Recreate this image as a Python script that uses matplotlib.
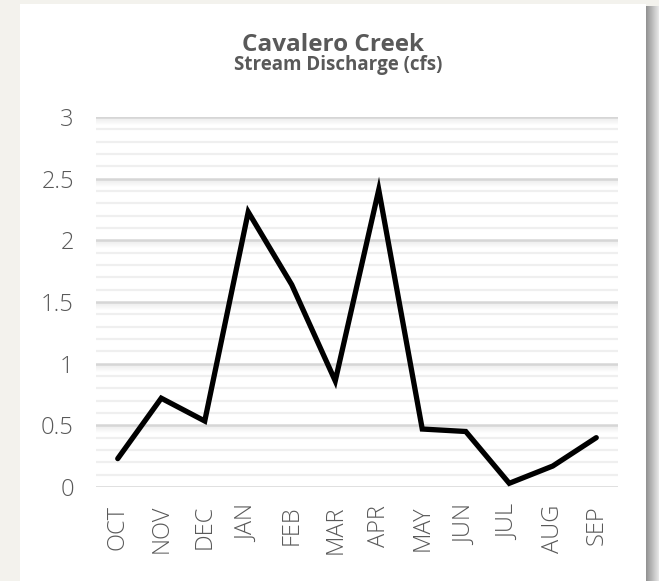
import matplotlib.pyplot as plt
import numpy as np

months = ['OCT', 'NOV', 'DEC', 'JAN', 'FEB', 'MAR',
          'APR', 'MAY', 'JUN', 'JUL', 'AUG', 'SEP']
discharge = [0.23, 0.72, 0.535, 2.23, 1.64, 0.86,
             2.41, 0.47, 0.45, 0.03, 0.17, 0.40]
major_ticks = [0, 0.5, 1, 1.5, 2, 2.5, 3]
major_labels = ['0', '0.5', '1', '1.5', '2', '2.5', '3']

W, H = 659, 581
fig = plt.figure(figsize=(W / 100, H / 100), dpi=100)

# background: beige page, white card, shadow on the card's right side
bg = np.ones((H, W, 3))
bg[:, :] = np.array([243, 242, 237]) / 255
bg[4:, 20:646] = 1.0
shade = np.linspace(0.58, 0.9, W - 646)
bg[6:, 646:] = shade[None, :, None]
bg_ax = fig.add_axes([0, 0, 1, 1], zorder=-1)
bg_ax.imshow(bg, aspect='auto', interpolation='nearest')
bg_ax.axis('off')

ax = fig.add_axes([96 / W, 1 - 487 / H, 522 / W, 370 / H])
ax.set_facecolor('none')

x = np.arange(len(months))
ax.set_xlim(-0.5, 11.5)
ax.set_ylim(0, 3)

# minor grid
for v in np.arange(0.1, 3.0, 0.1):
    if abs(v * 2 - round(v * 2)) > 1e-6:
        ax.axhline(v, color='#efefef', lw=1.6, zorder=1)

# major grid with soft shadow
px = 3.0 / 370
for v in major_ticks:
    if v > 0:
        for d in range(1, 8):
            ax.axhline(v - d * px, color='#d0d0d0', lw=1.2,
                       alpha=0.3 * (1 - d / 8), zorder=1)
    ax.axhline(v, color='#d6d6d6', lw=1.8, zorder=2)

ax.plot(x, discharge, color='black', lw=3.8, solid_capstyle='round',
        solid_joinstyle='miter', zorder=5, clip_on=False)

tick_font = dict(family='Open Sans', fontweight='light', fontsize=17, color='#595959')
for s in ax.spines.values():
    s.set_visible(False)
ax.tick_params(length=0, colors='#595959')
ax.set_yticks(major_ticks)
ax.set_yticklabels(major_labels, **tick_font)
ax.tick_params(axis='y', pad=16)
ax.set_xticks(x)
ax.set_xticklabels(months, rotation=90, **tick_font)
ax.tick_params(axis='x', pad=13)

fig.text(333 / W, 1 - 51 / H, 'Cavalero Creek', ha='center', va='baseline',
         fontsize=17.5, fontweight='bold', family='Open Sans', color='#595959')
fig.text(338 / W, 1 - 70 / H, 'Stream Discharge (cfs)', ha='center', va='baseline',
         fontsize=13.5, fontweight='bold', family='Open Sans', color='#595959')

fig.savefig('out.png', dpi=100)
